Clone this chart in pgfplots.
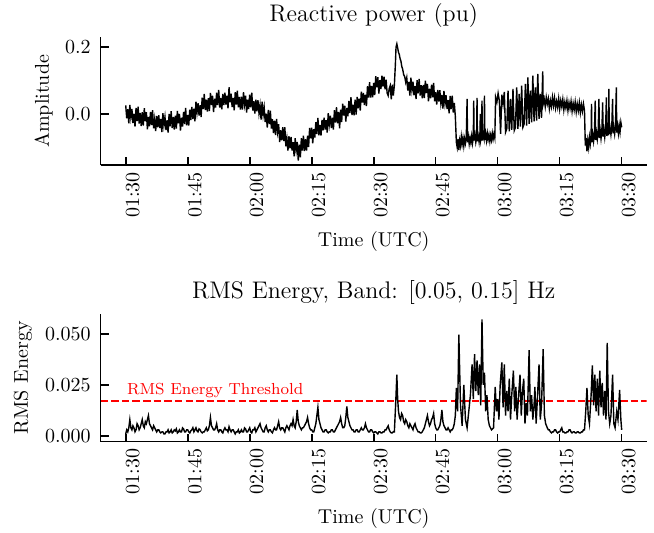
\documentclass[border=0pt]{standalone}
\usepackage{pgfplots}
\pgfplotsset{compat=1.18}
\begin{document}
\begin{tikzpicture}
\path[use as bounding box] (0,0) rectangle (327pt,-266.5pt);
\pgfplotsset{
  myaxis/.style={
    scale only axis, width=273pt, height=64pt,
    xmin=-6.05, xmax=126.05,
    axis x line*=bottom, axis y line*=left,
    axis line style={-, line width=0.8pt},
    tick align=inside, major tick length=4pt,
    tick style={black, line width=0.8pt},
    scaled y ticks=false,
    xtick={0,15,30,45,60,75,90,105,120},
    xticklabels={01:30,01:45,02:00,02:15,02:30,02:45,03:00,03:15,03:30},
    xticklabel style={rotate=90, anchor=east, yshift=-3.5pt, font=\normalsize},
    yticklabel style={xshift=-1.5pt, font=\normalsize},
    xlabel style={at={(axis description cs:0.5,0)}, anchor=center, yshift=-38.35pt, font=\normalsize},
    title style={at={(axis description cs:0.5,1)}, anchor=center, yshift=4.75pt, font=\large},
    xlabel={Time (UTC)},
  }
}
\begin{axis}[myaxis, at={(50.35pt,-82.65pt)}, anchor=south west,
  ymin=-0.154, ymax=0.23,
  ytick={0,0.2}, yticklabels={0.0,0.2},
  ylabel={Amplitude},
  ylabel style={at={(axis description cs:-0.1044,0.5)}, anchor=center, font=\normalsize},
  title={Reactive power (pu)}]
\addplot[black, line width=0.7pt] coordinates {
(0,0.026) (0.25,-0.013) (0.5,0.014) (0.75,-0.028) (1,0.027) (1.25,-0.010) (1.5,0.015) (1.75,-0.027)
(2,0.001) (2.25,-0.038) (2.5,0.018) (2.75,-0.021) (3,0.022) (3.25,-0.029) (3.5,0.003) (3.75,-0.036)
(4,0.005) (4.25,-0.035) (4.5,0.017) (4.75,-0.022) (5,0.005) (5.25,-0.046) (5.5,-0.009) (5.75,-0.037)
(6,0.006) (6.25,-0.033) (6.5,0.011) (6.75,-0.043) (7,-0.016) (7.25,-0.051) (7.5,-0.006) (7.75,-0.040)
(8,-0.004) (8.25,-0.042) (8.5,-0.015) (8.75,-0.054) (9,0.002) (9.25,-0.034) (9.5,-0.009) (9.75,-0.048)
(10,-0.019) (10.25,-0.056) (10.5,0.000) (10.75,-0.037) (11,0.008) (11.25,-0.042) (11.5,-0.009) (11.75,-0.047)
(12,-0.005) (12.25,-0.044) (12.5,0.009) (12.75,-0.028) (13,0.000) (13.25,-0.050) (13.5,-0.011) (13.75,-0.038)
(14,0.006) (14.25,-0.030) (14.5,0.018) (14.75,-0.034) (15,-0.003) (15.25,-0.035) (15.5,0.013) (15.75,-0.018)
(16,0.021) (16.25,-0.015) (16.5,0.016) (16.75,-0.022) (17,0.037) (17.25,0.004) (17.5,0.032) (17.75,-0.005)
(18,0.026) (18.25,-0.009) (18.5,0.049) (18.75,0.015) (19,0.060) (19.25,0.012) (19.5,0.043) (19.75,0.007)
(20,0.047) (20.25,0.009) (20.5,0.063) (20.75,0.027) (21,0.055) (21.25,0.006) (21.5,0.046) (21.75,0.019)
(22,0.064) (22.25,0.027) (22.5,0.072) (22.75,0.019) (23,0.048) (23.25,0.014) (23.5,0.060) (23.75,0.027)
(24,0.064) (24.25,0.028) (24.5,0.055) (24.75,0.017) (25,0.080) (25.25,0.035) (25.5,0.061) (25.75,0.021)
(26,0.048) (26.25,0.011) (26.5,0.065) (26.75,0.028) (27,0.070) (27.25,0.020) (27.5,0.051) (27.75,0.013)
(28,0.052) (28.25,0.013) (28.5,0.065) (28.75,0.029) (29,0.055) (29.25,0.004) (29.5,0.043) (29.75,0.015)
(30,0.058) (30.25,0.020) (30.5,0.064) (30.75,0.010) (31,0.038) (31.25,0.001) (31.5,0.043) (31.75,0.008)
(32,0.041) (32.25,0.002) (32.5,0.026) (32.75,-0.017) (33,0.037) (33.25,-0.003) (33.5,0.020) (33.75,-0.024)
(34,0.001) (34.25,-0.041) (34.5,0.012) (34.75,-0.030) (35,0.010) (35.25,-0.044) (35.5,-0.016) (35.75,-0.057)
(36,-0.020) (36.25,-0.063) (36.5,-0.015) (36.75,-0.054) (37,-0.031) (37.25,-0.084) (37.5,-0.049) (37.75,-0.079)
(38,-0.040) (38.25,-0.081) (38.5,-0.040) (38.75,-0.097) (39,-0.073) (39.25,-0.110) (39.5,-0.067) (39.75,-0.103)
(40,-0.069) (40.25,-0.110) (40.5,-0.085) (40.75,-0.127) (41,-0.073) (41.25,-0.109) (41.5,-0.084) (41.75,-0.140)
(42,-0.092) (42.25,-0.130) (42.5,-0.073) (42.75,-0.110) (43,-0.065) (43.25,-0.111) (43.5,-0.076) (43.75,-0.110)
(44,-0.065) (44.25,-0.099) (44.5,-0.042) (44.75,-0.073) (45,-0.041) (45.25,-0.088) (45.5,-0.046) (45.75,-0.071)
(46,-0.025) (46.25,-0.060) (46.5,-0.012) (46.75,-0.064) (47,-0.033) (47.25,-0.065) (47.5,-0.018) (47.75,-0.049)
(48,-0.011) (48.25,-0.047) (48.5,-0.019) (48.75,-0.056) (49,0.002) (49.25,-0.032) (49.5,-0.005) (49.75,-0.042)
(50,-0.011) (50.25,-0.047) (50.5,0.011) (50.75,-0.026) (51,0.020) (51.25,-0.028) (51.5,0.006) (51.75,-0.043)
(52,0.013) (52.25,-0.024) (52.5,0.031) (52.75,-0.005) (53,0.025) (53.25,-0.023) (53.5,0.018) (53.75,-0.007)
(54,0.039) (54.25,0.003) (54.5,0.050) (54.75,-0.003) (55,0.028) (55.25,-0.004) (55.5,0.043) (55.75,-0.002)
(56,0.051) (56.25,0.017) (56.5,0.046) (56.75,0.010) (57,0.067) (57.25,0.034) (57.5,0.063) (57.75,0.027)
(58,0.058) (58.25,0.024) (58.5,0.083) (58.75,0.049) (59,0.095) (59.25,0.049) (59.5,0.084) (59.75,0.050)
(60,0.093) (60.25,0.057) (60.5,0.113) (60.75,0.080) (61,0.110) (61.25,0.061) (61.5,0.101) (61.75,0.075)
(62,0.115) (62.25,0.082) (62.5,0.112) (62.75,0.074) (63,0.103) (63.25,0.063) (63.5,0.055) (63.75,0.076)
(64,0.085) (64.25,0.044) (64.5,0.088) (64.75,0.055) (65,0.086) (65.25,0.150) (65.4,0.200) (65.6,0.210)
(65.8,0.198) (66,0.185) (66.2,0.178) (66.4,0.165) (66.6,0.158) (66.8,0.142) (67,0.135) (67.25,0.118)
(67.5,0.112) (67.75,0.095) (68,0.109) (68.25,0.070) (68.5,0.096) (68.75,0.055) (69,0.109) (69.25,0.072)
(69.5,0.097) (69.75,0.056) (70,0.084) (70.25,0.045) (70.5,0.101) (70.75,0.062) (71,0.105) (71.25,0.055)
(71.5,0.086) (71.75,0.047) (72,0.087) (72.25,0.048) (72.5,0.100) (72.75,0.063) (73,0.090) (73.25,0.038)
(73.5,0.076) (73.75,0.047) (74,0.088) (74.25,0.050) (74.5,0.093) (74.75,0.038) (75,0.065) (75.25,0.028)
(75.5,0.072) (75.75,0.037) (76,0.071) (76.25,0.032) (76.5,0.057) (76.75,0.016) (77,0.069) (77.25,0.031)
(77.5,0.056) (77.75,0.015) (78,0.041) (78.25,0.002) (78.5,0.054) (78.75,0.015) (79,0.055) (79.25,0.004)
(79.5,0.033) (79.75,-0.007)
(80.0,-0.085) (80.2,-0.100) (80.4,-0.075) (80.6,-0.108) (80.8,-0.080) (81.0,-0.095) (81.2,-0.068) (81.4,-0.090)
(81.6,-0.072) (81.8,-0.096) (82.0,-0.074) (82.2,-0.088) (82.4,-0.070) (82.6,0.045) (82.7,-0.085) (82.9,-0.068)
(83.1,-0.090) (83.3,-0.072) (83.5,-0.086) (83.7,-0.066) (83.9,-0.088) (84.1,-0.070) (84.2,0.040) (84.3,-0.080)
(84.5,-0.064) (84.7,-0.085) (84.9,-0.070) (85.0,0.048) (85.1,-0.082) (85.3,-0.066) (85.5,-0.084) (85.7,-0.060)
(85.8,0.000) (85.9,-0.078) (86.1,-0.065) (86.2,0.040) (86.3,-0.080) (86.5,-0.062) (86.7,-0.074) (86.8,0.055)
(86.9,-0.078) (87.1,-0.060) (87.3,-0.080) (87.5,-0.058) (87.7,-0.076) (87.9,-0.062) (88.1,-0.082) (88.3,-0.064)
(88.5,-0.078) (88.7,-0.058) (88.9,-0.075) (89.1,-0.060) (89.3,-0.072)
(89.5,0.050) (89.8,0.035) (90.1,0.062) (90.4,0.040) (90.7,-0.060) (91.0,0.058) (91.3,0.030) (91.6,0.066)
(91.9,-0.055) (92.2,-0.045) (92.5,0.070) (92.8,-0.052) (93.1,0.045) (93.4,-0.048) (93.7,0.075) (94.0,-0.050)
(94.3,-0.040) (94.6,0.080) (94.9,-0.045) (95.2,0.060) (95.5,-0.038) (95.8,0.085) (96.1,-0.040) (96.4,-0.030)
(96.7,0.090) (97.0,-0.035) (97.3,0.110) (97.6,-0.030) (97.9,0.070) (98.2,-0.025) (98.5,0.115) (98.8,-0.022)
(99.1,0.080) (99.4,-0.020) (99.7,0.120) (100.0,-0.015) (100.3,0.060) (100.6,-0.012) (100.9,0.128) (101.0,0.030)
(101.25,0.045) (101.5,0.022) (101.75,0.050) (102.0,0.030) (102.25,0.046) (102.5,0.016) (102.75,0.040) (103.0,0.022)
(103.25,0.050) (103.5,0.025) (103.75,0.048) (104.0,0.018) (104.25,0.038) (104.5,0.020) (104.75,0.046) (105.0,0.015)
(105.25,0.040) (105.5,0.022) (105.75,0.044) (106.0,0.012) (106.25,0.036) (106.5,0.018) (106.75,0.040) (107.0,0.010)
(107.25,0.034) (107.5,0.016) (107.75,0.038) (108.0,0.008) (108.25,0.032) (108.5,0.012) (108.75,0.036) (109.0,0.006)
(109.25,0.030) (109.5,0.010) (109.75,0.034) (110.0,0.004) (110.25,0.028) (110.5,0.008) (110.75,0.030) (111.0,0.010)
(111.2,-0.095) (111.4,-0.072) (111.6,-0.112) (111.8,-0.080) (112.0,-0.100) (112.2,-0.070) (112.4,-0.090) (112.6,-0.066)
(112.7,0.030) (112.8,-0.085) (113.0,-0.062) (113.2,-0.082) (113.4,-0.058) (113.6,0.040) (113.7,-0.078) (113.9,-0.056)
(114.1,-0.076) (114.3,-0.054) (114.5,0.045) (114.6,-0.072) (114.8,-0.050) (115.0,-0.074) (115.2,-0.052) (115.4,0.035)
(115.5,-0.068) (115.7,-0.048) (115.9,-0.070) (116.1,-0.046) (116.3,0.050) (116.4,-0.066) (116.6,-0.044) (116.8,-0.064)
(116.9,0.075) (117.0,-0.060) (117.2,-0.042) (117.4,-0.062) (117.6,-0.040) (117.8,0.045) (117.9,-0.058) (118.1,-0.040)
(118.3,-0.060) (118.5,-0.038) (118.7,0.080) (118.8,-0.056) (119.0,-0.036) (119.2,-0.058) (119.4,-0.034) (119.6,-0.054)
(119.8,-0.025) (120.0,-0.040)
};
\end{axis}
\begin{axis}[myaxis, at={(50.35pt,-220.85pt)}, anchor=south west,
  ymin=-0.0028, ymax=0.0598,
  ytick={0,0.025,0.05}, yticklabels={0.000,0.025,0.050},
  ylabel={RMS Energy},
  ylabel style={at={(axis description cs:-0.1423,0.5)}, anchor=center, font=\normalsize},
  title={RMS Energy, Band: [0.05, 0.15] Hz}]
\addplot[red, line width=0.8pt, dash pattern=on 3.7pt off 1.6pt] coordinates {(-6.05,0.01716) (126.05,0.01716)};
\node[red, anchor=base west, inner sep=0pt, font=\footnotesize] at (axis cs:0.24,0.0201) {RMS Energy Threshold};
\addplot[black, line width=0.7pt] coordinates {
(0,0.001) (0.25,0.003) (0.5,0.002) (0.75,0.004) (1.0,0.008) (1.25,0.004) (1.5,0.003) (1.75,0.005)
(2.0,0.004) (2.25,0.002) (2.5,0.003) (2.75,0.006) (3.0,0.005) (3.25,0.003) (3.5,0.004) (3.75,0.006)
(4.0,0.008) (4.25,0.005) (4.5,0.004) (4.75,0.007) (5.0,0.006) (5.25,0.008) (5.5,0.010) (5.75,0.006)
(6.0,0.005) (6.25,0.004) (6.5,0.003) (6.75,0.005) (7.0,0.004) (7.25,0.003) (7.5,0.002) (7.75,0.003)
(8.0,0.003) (8.25,0.002) (8.5,0.0015) (8.75,0.002) (9.0,0.002) (9.25,0.001) (9.5,0.001) (9.75,0.002)
(10.0,0.002) (10.25,0.003) (10.5,0.0015) (10.75,0.002) (11.0,0.003) (11.25,0.0015) (11.5,0.002) (11.75,0.003)
(12.0,0.0025) (12.25,0.0035) (12.5,0.0015) (12.75,0.002) (13.0,0.003) (13.25,0.002) (13.5,0.002) (13.75,0.004)
(14.0,0.0035) (14.25,0.002) (14.5,0.002) (14.75,0.003) (15.0,0.003) (15.25,0.002) (15.5,0.0015) (15.75,0.0025)
(16.0,0.003) (16.25,0.004) (16.5,0.002) (16.75,0.003) (17.0,0.004) (17.25,0.0025) (17.5,0.002) (17.75,0.0035)
(18.0,0.003) (18.25,0.002) (18.5,0.0015) (18.75,0.002) (19.0,0.002) (19.25,0.003) (19.5,0.004) (19.75,0.0025)
(20.0,0.003) (20.25,0.005) (20.5,0.009) (20.75,0.005) (21.0,0.004) (21.25,0.003) (21.5,0.003) (21.75,0.004)
(22.0,0.006) (22.25,0.003) (22.5,0.002) (22.75,0.003) (23.0,0.003) (23.25,0.002) (23.5,0.0015) (23.75,0.003)
(24.0,0.004) (24.25,0.003) (24.5,0.003) (24.75,0.002) (25.0,0.0045) (25.25,0.003) (25.5,0.002) (25.75,0.003)
(26.0,0.003) (26.25,0.002) (26.5,0.001) (26.75,0.002) (27.0,0.002) (27.25,0.003) (27.5,0.0015) (27.75,0.002)
(28.0,0.003) (28.25,0.002) (28.5,0.002) (28.75,0.004) (29.0,0.0035) (29.25,0.002) (29.5,0.002) (29.75,0.003)
(30.0,0.004) (30.25,0.002) (30.5,0.0015) (30.75,0.003) (31.0,0.003) (31.25,0.004) (31.5,0.002) (31.75,0.003)
(32.0,0.004) (32.25,0.005) (32.5,0.006) (32.75,0.004) (33.0,0.003) (33.25,0.002) (33.5,0.002) (33.75,0.004)
(34.0,0.005) (34.25,0.003) (34.5,0.002) (34.75,0.003) (35.0,0.003) (35.25,0.002) (35.5,0.0015) (35.75,0.003)
(36.0,0.004) (36.25,0.003) (36.5,0.003) (36.75,0.005) (37.0,0.007) (37.25,0.004) (37.5,0.003) (37.75,0.004)
(38.0,0.004) (38.25,0.003) (38.5,0.002) (38.75,0.004) (39.0,0.005) (39.25,0.004) (39.5,0.003) (39.75,0.005)
(40.0,0.006) (40.25,0.005) (40.5,0.008) (40.75,0.005) (41.0,0.004) (41.25,0.007) (41.5,0.0127) (41.75,0.007)
(42.0,0.005) (42.25,0.004) (42.5,0.003) (42.75,0.004) (43.0,0.004) (43.25,0.005) (43.5,0.006) (43.75,0.007)
(44.0,0.009) (44.25,0.006) (44.5,0.004) (44.75,0.003) (45.0,0.003) (45.25,0.002) (45.5,0.002) (45.75,0.004)
(46.0,0.006) (46.25,0.010) (46.5,0.014) (46.75,0.008) (47.0,0.006) (47.25,0.004) (47.5,0.003) (47.75,0.002)
(48.0,0.002) (48.25,0.003) (48.5,0.003) (48.75,0.002) (49.0,0.0015) (49.25,0.002) (49.5,0.002) (49.75,0.003)
(50.0,0.003) (50.25,0.002) (50.5,0.002) (50.75,0.003) (51.0,0.004) (51.25,0.005) (51.5,0.006) (51.75,0.007)
(52.0,0.009) (52.25,0.006) (52.5,0.004) (52.75,0.004) (53.0,0.005) (53.25,0.009) (53.5,0.0145) (53.75,0.009)
(54.0,0.007) (54.25,0.005) (54.5,0.004) (54.75,0.003) (55.0,0.003) (55.25,0.002) (55.5,0.002) (55.75,0.003)
(56.0,0.003) (56.25,0.002) (56.5,0.002) (56.75,0.003) (57.0,0.004) (57.25,0.003) (57.5,0.003) (57.75,0.004)
(58.0,0.006) (58.25,0.004) (58.5,0.003) (58.75,0.002) (59.0,0.002) (59.25,0.003) (59.5,0.003) (59.75,0.002)
(60.0,0.0015) (60.25,0.002) (60.5,0.002) (60.75,0.0015) (61.0,0.001) (61.25,0.002) (61.5,0.002) (61.75,0.0015)
(62.0,0.0015) (62.25,0.002) (62.5,0.002) (62.75,0.003) (63.0,0.003) (63.25,0.004) (63.5,0.005) (63.75,0.003)
(64.0,0.002) (64.25,0.0015) (64.5,0.0015) (64.75,0.002) (65.0,0.002) (65.3,0.015) (65.6,0.030) (65.8,0.018)
(66.0,0.012) (66.25,0.009) (66.5,0.008) (66.75,0.011) (67.0,0.010) (67.25,0.007) (67.5,0.006) (67.75,0.008)
(68.0,0.007) (68.25,0.005) (68.5,0.004) (68.75,0.006) (69.0,0.005) (69.25,0.004) (69.5,0.003) (69.75,0.005)
(70.0,0.006) (70.25,0.004) (70.5,0.003) (70.75,0.002) (71.0,0.002) (71.25,0.0015) (71.5,0.0015) (71.75,0.002)
(72.0,0.003) (72.25,0.004) (72.5,0.006) (72.75,0.008) (73.0,0.010) (73.25,0.007) (73.5,0.005) (73.75,0.006)
(74.0,0.008) (74.25,0.009) (74.5,0.011) (74.75,0.006) (75.0,0.004) (75.25,0.003) (75.5,0.003) (75.75,0.004)
(76.0,0.005) (76.25,0.008) (76.5,0.0127) (76.75,0.007) (77.0,0.005) (77.25,0.004) (77.5,0.003) (77.75,0.003)
(78.0,0.004) (78.25,0.003) (78.5,0.002) (78.75,0.003) (79.0,0.003) (79.25,0.004) (79.5,0.006) (79.75,0.010)
(80.0,0.0235) (80.3,0.012) (80.6,0.0495) (81.0,0.015) (81.4,0.005) (81.8,0.025) (82.2,0.008)
(82.6,0.004) (83.0,0.012) (83.4,0.020) (83.8,0.035) (84.1,0.018) (84.4,0.040) (84.7,0.022) (85.0,0.037)
(85.3,0.020) (85.6,0.035) (85.9,0.015) (86.2,0.057) (86.5,0.025) (86.8,0.031) (87.1,0.012) (87.4,0.020)
(87.7,0.008) (88.0,0.005) (88.5,0.003) (89.0,0.004) (89.4,0.024) (89.7,0.012) (90.0,0.018) (90.3,0.008)
(90.6,0.025) (91.0,0.036) (91.3,0.014) (91.6,0.035) (91.9,0.010) (92.2,0.022) (92.5,0.012) (92.8,0.028)
(93.1,0.008) (93.4,0.020) (93.8,0.032) (94.1,0.012) (94.4,0.024) (94.7,0.008) (95.0,0.018) (95.4,0.030)
(95.7,0.010) (96.0,0.022) (96.3,0.028) (96.6,0.006) (96.9,0.016) (97.2,0.010) (97.6,0.042) (97.9,0.012)
(98.2,0.020) (98.5,0.008) (98.8,0.015) (99.0,0.024) (99.3,0.006) (99.6,0.018) (100.0,0.035) (100.3,0.008)
(100.6,0.015) (101.0,0.0425) (101.3,0.010) (101.6,0.006) (101.8,0.005) (102.0,0.004) (102.25,0.003) (102.5,0.003)
(102.75,0.002) (103.0,0.0015) (103.25,0.002) (103.5,0.002) (103.75,0.003) (104.0,0.003) (104.25,0.002) (104.5,0.0015)
(104.75,0.002) (105.0,0.002) (105.25,0.003) (105.5,0.004) (105.75,0.002) (106.0,0.002) (106.25,0.0015) (106.5,0.0015)
(106.75,0.002) (107.0,0.002) (107.25,0.003) (107.5,0.003) (107.75,0.002) (108.0,0.0015) (108.25,0.002) (108.5,0.002)
(108.75,0.0015) (109.0,0.0015) (109.25,0.002) (109.5,0.002) (109.75,0.0015) (110.0,0.0015) (110.25,0.002) (110.5,0.002)
(110.75,0.003) (111.0,0.003) (111.3,0.012)
(111.6,0.0235) (111.9,0.010) (112.2,0.006) (112.6,0.020) (112.9,0.0345) (113.2,0.015) (113.5,0.030) (113.8,0.012)
(114.1,0.028) (114.4,0.010) (114.7,0.032) (115.0,0.014) (115.3,0.026) (115.6,0.010) (115.9,0.022) (116.2,0.008)
(116.5,0.0455) (116.8,0.012) (117.1,0.006) (117.4,0.010) (117.8,0.030) (118.1,0.006) (118.4,0.004) (118.8,0.012)
(119.1,0.008) (119.5,0.0225) (119.8,0.008) (120.0,0.003)
};
\end{axis}
\end{tikzpicture}
\end{document}
